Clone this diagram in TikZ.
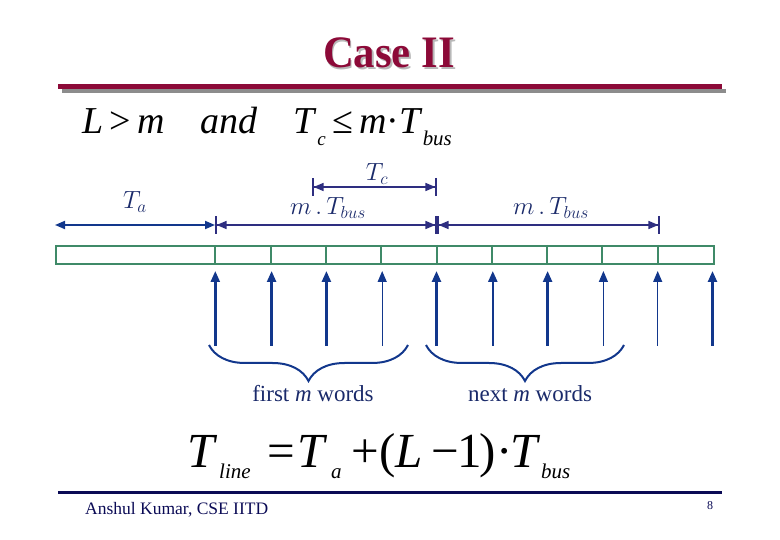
\documentclass[tikz,border=0pt]{standalone}
\usepackage{fontspec}
\setmainfont{Liberation Serif}
\usetikzlibrary{arrows.meta,decorations.pathreplacing}
\definecolor{crimson}{HTML}{8C0A38}
\definecolor{navy}{HTML}{0A0A55}
\definecolor{ind}{HTML}{2E2E80}
\definecolor{blu}{HTML}{12378C}
\definecolor{grn}{HTML}{3F8A68}
\definecolor{lbl}{HTML}{1A2A6A}
\newcommand\mysub[2][0.6]{\raisebox{-0.3em}{\scalebox{#1}{#2}}}
\newcommand\piece[2]{\makebox[#1pt][l]{#2}}
\newcommand\lowsub[2]{\raisebox{-#1pt}{\fontsize{21}{21}\selectfont\textit{#2}}}
\begin{document}
\begin{tikzpicture}[x=1pt,y=-1pt,
  dimarrow/.style={ind, line width=1.6pt},
  tickarrow/.style={dimarrow, arrows={{Bar[width=18pt,line width=1.6pt]Triangle[length=10pt,width=8pt]}-{Triangle[length=10pt,width=8pt]Bar[width=18pt,line width=1.6pt]}}},
  uparrow/.style={blu, line width=2.4pt, -{Triangle[length=11pt,width=9pt]}},
  thinup/.style={blu, line width=1.2pt, -{Triangle[length=11pt,width=9pt]}},
  lab/.style={text=lbl, font=\fontsize{23.5}{26}\selectfont, inner sep=0pt, anchor=base},
  bracestyle/.style={blu, line width=2pt, decorate, decoration={brace, amplitude=36pt, mirror}},
  wordlab/.style={text=lbl, font=\fontsize{23}{26}\selectfont, inner sep=0pt, anchor=base}
]
\useasboundingbox (0,0) rectangle (780,540);
% title with shadow in one node
\node[font=\fontsize{45}{48}\selectfont\bfseries, inner sep=0pt, anchor=base] (title) at (389,68)
  {\scalebox{0.95}[1]{\makebox[0pt][l]{\hspace{2pt}\raisebox{-2pt}{\color{black!28}Case II}}\color{crimson}Case II}};
\coordinate (r1a) at (58,87); \coordinate (r1b) at (722,87);
\coordinate (r1c) at (62,91); \coordinate (r1d) at (726,91);
\draw[black!45, line width=4pt] (r1c) -- (r1d);
\draw[crimson, line width=5pt] (r1a) -- (r1b);
% condition
\node[anchor=base west, inner sep=0pt, font=\fontsize{38}{40}\selectfont] (cond) at (82,134)
  {\textit{L}\,>\,\textit{m}\hspace{36pt}\textit{and}\hspace{36pt}\textit{T}\mysub[0.5]{\textit{c}}\,≤\,\textit{m}·\textit{T}\mysub[0.55]{\textit{bus}}};
% dimension coordinates
\coordinate (a0) at (55,225); \coordinate (a1) at (215,225);
\coordinate (a2) at (437,225); \coordinate (a3) at (660,225);
\coordinate (c0) at (312,187); \coordinate (c1) at (437,187);
\draw[blu, line width=1.8pt, arrows={Triangle[length=10pt,width=8pt]-Triangle[length=10pt,width=8pt]}] (a0) -- (a1);
\draw[tickarrow] (a1) -- (a2);
\draw[tickarrow] (a2) -- (a3);
\draw[tickarrow] (c0) -- (c1);
\node[lab] (ta) at (135,209) {$T_a$};
\node[lab] (tc) at (377,181) {$T_c$};
\node[lab] (mt1) at (328,215) {$m\,.\,T_{bus}$};
\node[lab] (mt2) at (551,215) {$m\,.\,T_{bus}$};
% bar
\node[draw=grn, line width=2pt, minimum width=658pt, minimum height=18pt, inner sep=0pt, anchor=north west] (bar) at (55,245) {};
\foreach \i/\x in {1/215.3,2/270.6,3/325.9,4/381.2,5/436.5,6/491.8,7/547.1,8/602.4,9/657.7}{
  \coordinate (d\i t) at (\x,245); \coordinate (d\i b) at (\x,263);
  \draw[grn, line width=2pt] (d\i t) -- (d\i b);
}
% up arrows
\foreach \i/\x/\s in {1/215.3/uparrow,2/271.6/uparrow,3/326.4/uparrow,4/382.2/thinup,5/436.5/uparrow,6/492.8/uparrow,7/547.6/uparrow,8/603.4/thinup,9/657.7/thinup,10/712.5/uparrow}{
  \coordinate (u\i b) at (\x,346); \coordinate (u\i t) at (\x,271);
  \draw[\s] (u\i b) -- (u\i t);
}
% braces
\coordinate (b1s) at (209,345); \coordinate (b1e) at (408,345);
\coordinate (b2s) at (426,345); \coordinate (b2e) at (624,345);
\draw[bracestyle] (b1s) -- (b1e);
\draw[bracestyle] (b2s) -- (b2e);
\node[wordlab] (w1) at (313,402) {first \textit{m} words};
\node[wordlab] (w2) at (530,402) {next \textit{m} words};
% formula
\node[anchor=base west, inner sep=0pt, font=\fontsize{49}{52}\selectfont] (tline) at (187,467)
  {\piece{32}{\textit{T}}\piece{48}{\lowsub{11}{line}}\piece{30}{=}\piece{34}{\textit{T}}\piece{20}{\lowsub{11}{a}}\piece{28}{+}\piece{16}{(}\piece{36}{\textit{L}}\piece{26}{−}\piece{22}{1}\piece{17}{)}\piece{14}{·}\piece{31}{\textit{T}}\lowsub{11}{bus}};
% footer
\coordinate (r2a) at (58,492); \coordinate (r2b) at (722,492);
\draw[navy, line width=3pt] (r2a) -- (r2b);
\node[anchor=base west, inner sep=0pt, text=navy, font=\fontsize{17.5}{20}\selectfont] (auth) at (85,514) {Anshul Kumar, CSE IITD};
\node[anchor=base, inner sep=0pt, text=navy, font=\fontsize{12}{14}\selectfont] (pg) at (710,509) {8};
\end{tikzpicture}
\end{document}
